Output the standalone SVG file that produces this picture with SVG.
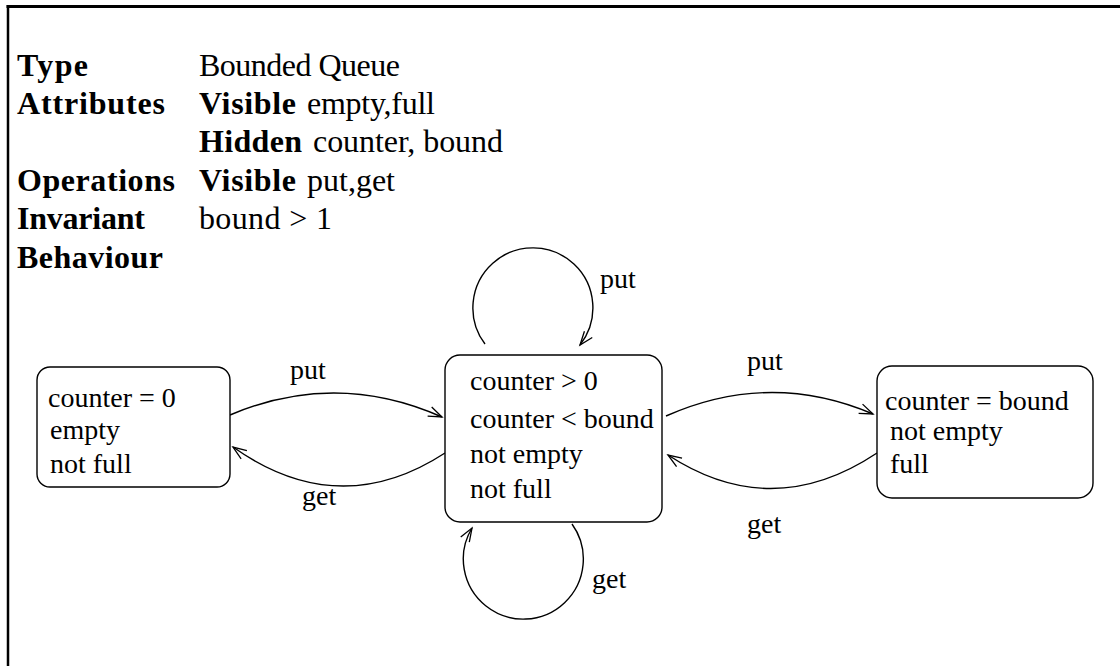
<svg xmlns="http://www.w3.org/2000/svg" width="1120" height="666" viewBox="0 0 1120 666">
<style>
.frame{stroke:#000;fill:none}
.lbl{font-family:"Liberation Serif","Times New Roman",serif;font-size:32px;font-weight:bold;fill:#000}
.val{font-family:"Liberation Serif","Times New Roman",serif;font-size:32px;fill:#000}
.st{font-family:"Liberation Serif","Times New Roman",serif;font-size:28px;fill:#000}
.box{fill:#fff;stroke:#000;stroke-width:1.4}
.edge{fill:none;stroke:#000;stroke-width:1.4;marker-end:url(#ah)}
</style>
<defs>
<marker id="ah" markerUnits="userSpaceOnUse" viewBox="0 0 14 10" markerWidth="14" markerHeight="10" refX="13.5" refY="5" orient="auto" overflow="visible">
<path d="M0,0 L13.5,5 L0,10" fill="none" stroke="#000" stroke-width="1.3"/>
</marker>
</defs>
<rect width="1120" height="666" fill="#fff"/>
<line class="frame" x1="6.5" y1="6.5" x2="1120" y2="6.5" stroke-width="3"/>
<line class="frame" x1="8" y1="5" x2="8" y2="666" stroke-width="2.5"/>

<g id="spec">
<text class="lbl" x="17" y="76" textLength="71">Type</text>
<text class="val" x="199" y="76" textLength="201">Bounded Queue</text>
<text class="lbl" x="17" y="114" textLength="148">Attributes</text>
<text class="lbl" x="199" y="114" textLength="97">Visible</text>
<text class="val" x="307" y="114" textLength="128">empty,full</text>
<text class="lbl" x="199" y="152" textLength="103">Hidden</text>
<text class="val" x="313" y="152" textLength="190">counter, bound</text>
<text class="lbl" x="17" y="191" textLength="158">Operations</text>
<text class="lbl" x="199" y="191" textLength="97">Visible</text>
<text class="val" x="307" y="191" textLength="88">put,get</text>
<text class="lbl" x="17" y="229" textLength="128">Invariant</text>
<text class="val" x="199" y="229" textLength="133">bound &gt; 1</text>
<text class="lbl" x="17" y="268" textLength="146">Behaviour</text>
</g>

<g id="connectors">
<path class="edge" d="M230,415 Q336,370 442,417"/>
<path class="edge" d="M445,453 Q339,522 233,447"/>
<path class="edge" d="M666,416 Q770,370 873,414"/>
<path class="edge" d="M877,453 Q772,523 668,455"/>
<path class="edge" d="M485,344 A60,60 0 1 1 580,345"/>
<path class="edge" d="M572,524 A60,60 0 1 1 472,528"/>
<text class="st" x="290" y="379">put</text>
<text class="st" x="302" y="505">get</text>
<text class="st" x="747" y="370">put</text>
<text class="st" x="747" y="533">get</text>
<text class="st" x="600" y="288">put</text>
<text class="st" x="592" y="588">get</text>
</g>

<g id="state-empty">
<rect class="box" x="37" y="367" width="193" height="120" rx="13"/>
<text class="st" x="48" y="407">counter = 0</text>
<text class="st" x="50" y="439">empty</text>
<text class="st" x="50" y="473">not full</text>
</g>

<g id="state-partial">
<rect class="box" x="445" y="355" width="217" height="167" rx="15"/>
<text class="st" x="470" y="390">counter &gt; 0</text>
<text class="st" x="470" y="428">counter &lt; bound</text>
<text class="st" x="470" y="463">not empty</text>
<text class="st" x="470" y="498">not full</text>
</g>

<g id="state-full">
<rect class="box" x="877" y="366" width="216" height="132" rx="15"/>
<text class="st" x="885" y="410">counter = bound</text>
<text class="st" x="890" y="440">not empty</text>
<text class="st" x="890" y="473">full</text>
</g>
</svg>
